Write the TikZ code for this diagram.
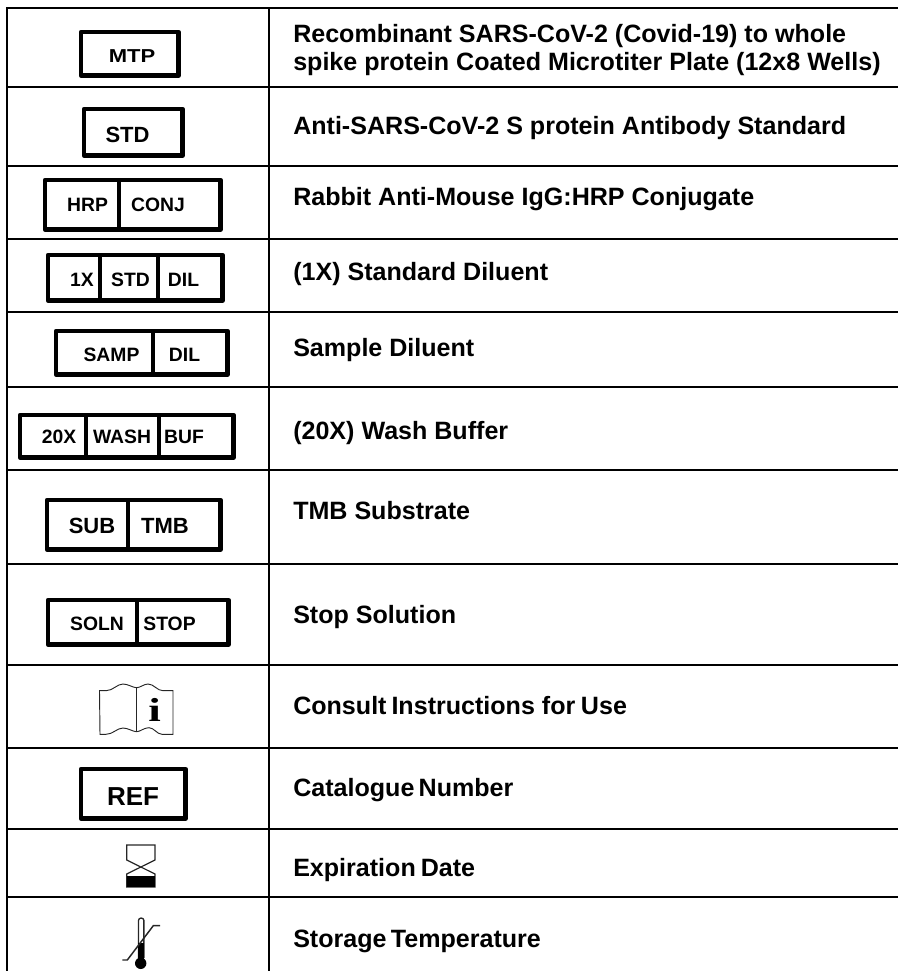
\documentclass[tikz,border=0pt]{standalone}
\usepackage{fontspec}
\setmainfont{Liberation Sans}
\newfontfamily\bookfont{Liberation Serif}
\tikzset{
    tableline/.style={line width=1.5pt},
    labelbox/.style={line width=3.2pt, line join=round},
    boxtext/.style={font=\fontsize{14.5}{16}\bfseries\selectfont, inner sep=0pt},
    boxtextlarge/.style={font=\fontsize{16.5}{18}\bfseries\selectfont, inner sep=0pt},
    reftext/.style={font=\fontsize{19.5}{22}\bfseries\selectfont, inner sep=0pt},
    rowtext/.style={font=\fontsize{18.8}{21}\bfseries\selectfont, inner sep=0pt, anchor=base west},
    symbolline/.style={line width=0.7pt, draw=black!85}
}

\begin{document}
\begin{tikzpicture}[x=0.75pt, y=-0.75pt]
        \useasboundingbox (0,0) rectangle (898,971);

        % --- Draw table lines ---
        \draw[tableline] (7,7.5) -- (898,7.5);
        \draw[tableline] (7,87) -- (898,87);
        \draw[tableline] (7,165.5) -- (898,165.5);
        \draw[tableline] (7,238.5) -- (898,238.5);
        \draw[tableline] (7,312) -- (898,312);
        \draw[tableline] (7,386.5) -- (898,386.5);
        \draw[tableline] (7,469.5) -- (898,469.5);
        \draw[tableline] (7,564) -- (898,564);
        \draw[tableline] (7,665) -- (898,665);
        \draw[tableline] (7,747.5) -- (898,747.5);
        \draw[tableline] (7,829) -- (898,829);
        \draw[tableline] (7,897) -- (898,897);
        \draw[tableline] (7,7) -- (7,971);
        \draw[tableline] (268.5,7) -- (268.5,971);
        % ---

        % --- Draw label boxes ---
        \draw[labelbox] (81,32) rectangle (178.5,75.5);
        \node[boxtextlarge, yscale=0.85] (mtp) at (132,56) {MTP};

        \draw[labelbox] (84,109) rectangle (182.5,155.5);
        \node[boxtextlarge] (std) at (127.5,135) {STD};

        \draw[labelbox] (45,180) rectangle (220.5,229.5);
        \draw[labelbox] (119,180) -- (119,229.5);
        \node[boxtext] (hrp) at (87.5,205) {HRP};
        \node[boxtext] (conj) at (158,205) {CONJ};

        \draw[labelbox] (48,255) rectangle (222.5,300.5);
        \draw[labelbox] (100,253) -- (100,300.5);
        \draw[labelbox] (158,255) -- (158,300.5);
        \node[boxtext] (onex) at (82,280) {1X};
        \node[boxtext] (stdthree) at (130.5,280) {STD};
        \node[boxtext] (dil) at (183.5,280) {DIL};

        \draw[labelbox] (56,331) rectangle (227.5,374.5);
        \draw[labelbox] (153,331) -- (153,374.5);
        \node[boxtext] (samp) at (111.5,355) {SAMP};
        \node[boxtext] (dilsamp) at (184.5,355) {DIL};

        \draw[labelbox] (20,415) rectangle (233.5,457.5);
        \draw[labelbox] (86,415) -- (86,457.5);
        \draw[labelbox] (159,415) -- (159,457.5);
        \node[boxtext] (twentyx) at (59,437) {20X};
        \node[boxtext] (wash) at (122,437) {WASH};
        \node[boxtext] (buf) at (184,437) {BUF};

        \draw[labelbox] (47,500) rectangle (220.5,549.5);
        \draw[labelbox] (128,500) -- (128,549.5);
        \node[boxtextlarge] (sub) at (92,526) {SUB};
        \node[boxtextlarge] (tmb) at (165,526) {TMB};

        \draw[labelbox] (48,600) rectangle (228.5,644.5);
        \draw[labelbox] (137,600) -- (137,644.5);
        \node[boxtext] (soln) at (97,624) {SOLN};
        \node[boxtext] (stop) at (169.5,624) {STOP};

        \draw[labelbox] (81,769) rectangle (185.5,818.5);
        \node[reftext] (ref) at (133,797) {REF};
        % ---

        % --- Draw book symbol ---
        \draw[symbolline] (99.5,690.7) -- (106,690.7) .. controls (113,690.7) and (117,684) .. (123,684) .. controls (128,684) and (133,687.7) .. (136.7,687.7) .. controls (140,687.7) and (144,684) .. (148,684) .. controls (154,684) and (157,690.7) .. (163,690.7) -- (173,690.7) -- (173,734.3) -- (162,734.3) .. controls (157,734.3) and (154,727.7) .. (149,727.7) .. controls (144,727.7) and (140,731.7) .. (136.7,731.7) .. controls (133,731.7) and (128,728) .. (123,728) .. controls (117,728) and (113,734.3) .. (106,734.3) -- (100,734.3) -- cycle;
        \draw[symbolline] (136.7,687.7) -- (136.7,731.7);
        \node[font=\bookfont\fontsize{25}{25}\bfseries\selectfont, inner sep=0pt, xscale=1.35] (info) at (154.5,710) {i};
        % ---

        % --- Draw hourglass symbol ---
        \draw[symbolline, line width=0.9pt] (126.7,845) -- (155,845) -- (155,860) -- (126.7,874) -- (126.7,887) -- (155,887) -- (155,874) -- (126.7,860) -- cycle;
        \fill (126.7,876) rectangle (155,887);
        % ---

        % --- Draw thermometer symbol ---
        \draw[symbolline, line width=1pt] (138.5,958) -- (138.5,920.5) arc[start angle=180, end angle=0, x radius=2.7, y radius=-2.5] -- (143.9,958);
        \fill (140.7,963.3) circle[radius=5.7];
        \fill (138,943) rectangle (144,960);
        \draw[symbolline, line width=1.1pt] (122.3,960) -- (127.3,960) -- (153.3,925.7) -- (160,925.7);
        % ---

        % --- Draw row descriptions ---
        \node[rowtext] (plate) at (293,42) {Recombinant SARS-CoV-2 (Covid-19) to whole};
        \node[rowtext] (plateb) at (293,70) {spike protein Coated Microtiter Plate (12x8 Wells)};
        \node[rowtext] (antibody) at (293,134) {Anti-SARS-CoV-2 S protein Antibody Standard};
        \node[rowtext] (conjugate) at (293,205) {Rabbit Anti-Mouse IgG:HRP Conjugate};
        \node[rowtext] (diluent) at (293,280) {(1X) Standard Diluent};
        \node[rowtext] (sample) at (293,356) {Sample Diluent};
        \node[rowtext] (buffer) at (293,439) {(20X) Wash Buffer};
        \node[rowtext] (substrate) at (293,519) {TMB Substrate};
        \node[rowtext] (solution) at (293,623) {Stop Solution};
        \node[rowtext] (consult) at (293,714) {Consult\hspace{-1.5pt} Instructions for\hspace{-1pt} Use};
        \node[rowtext] (catalogue) at (293,796) {Catalogue\hspace{-2pt} Number};
        \node[rowtext] (expiry) at (293,876) {Expiration\hspace{-1.5pt} Date};
        \node[rowtext] (storage) at (293,947) {Storage\hspace{-2pt} Temperature};
        % ---
    \end{tikzpicture}
\end{document}
